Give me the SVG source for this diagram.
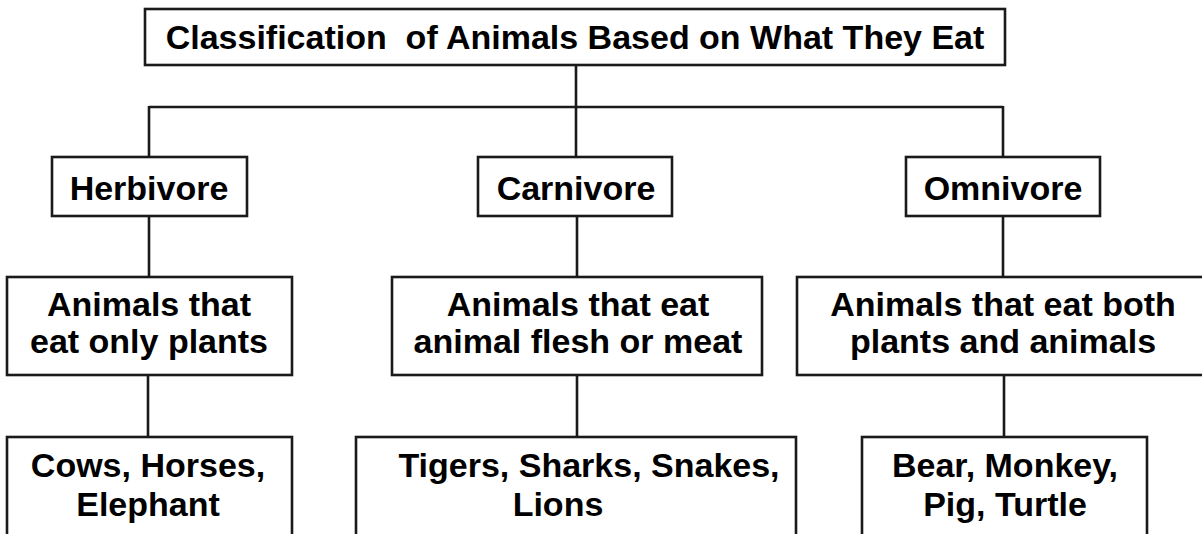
<svg xmlns="http://www.w3.org/2000/svg" width="1202" height="534" viewBox="0 0 1202 534">
<style>
  .box { fill: #ffffff; stroke: #1a1a1a; stroke-width: 2.6; }
  .txt { font-family: "Liberation Sans", Arial, sans-serif; font-weight: bold; font-size: 34px; fill: #000000; text-anchor: middle; }
  .conn { stroke: #1a1a1a; stroke-width: 2.6; fill: none; }
</style>
<rect width="1202" height="534" fill="#ffffff"/>
<g id="connectors">
  <path class="conn" d="M576,65 V107 M149,107 H1003 M149,106 V157 M576,107 V157 M1003,106 V157"/>
  <path class="conn" d="M149,216 V277 M577,216 V277 M1003,216 V277"/>
  <path class="conn" d="M148,375 V437 M577,375 V437 M1004,375 V437"/>
</g>
<g id="title">
  <rect class="box" x="145" y="9" width="860" height="56"/>
  <text class="txt" x="575" y="49" xml:space="preserve">Classification  of Animals Based on What They Eat</text>
</g>
<g id="herbivore">
  <rect class="box" x="52" y="157" width="195" height="59"/>
  <text class="txt" x="149" y="200">Herbivore</text>
</g>
<g id="carnivore">
  <rect class="box" x="478" y="157" width="194" height="59"/>
  <text class="txt" x="576" y="200">Carnivore</text>
</g>
<g id="omnivore">
  <rect class="box" x="906" y="157" width="194" height="59"/>
  <text class="txt" x="1003" y="200">Omnivore</text>
</g>
<g id="herbivore-desc">
  <rect class="box" x="7" y="277" width="285" height="98"/>
  <text class="txt" x="149" y="316">Animals that</text>
  <text class="txt" x="149" y="353">eat only plants</text>
</g>
<g id="carnivore-desc">
  <rect class="box" x="392" y="277" width="370" height="98"/>
  <text class="txt" x="578" y="316">Animals that eat</text>
  <text class="txt" x="578" y="353">animal flesh or meat</text>
</g>
<g id="omnivore-desc">
  <rect class="box" x="797" y="277" width="412" height="98"/>
  <text class="txt" x="1003" y="316">Animals that eat both</text>
  <text class="txt" x="1003" y="353">plants and animals</text>
</g>
<g id="herbivore-examples">
  <rect class="box" x="7" y="437" width="285" height="110"/>
  <text class="txt" x="148" y="477">Cows, Horses,</text>
  <text class="txt" x="148" y="516">Elephant</text>
</g>
<g id="carnivore-examples">
  <rect class="box" x="356" y="437" width="440" height="110"/>
  <text class="txt" x="589" y="477">Tigers, Sharks, Snakes,</text>
  <text class="txt" x="558" y="516">Lions</text>
</g>
<g id="omnivore-examples">
  <rect class="box" x="862" y="437" width="285" height="110"/>
  <text class="txt" x="1005" y="477">Bear, Monkey,</text>
  <text class="txt" x="1005" y="516">Pig, Turtle</text>
</g>
</svg>
